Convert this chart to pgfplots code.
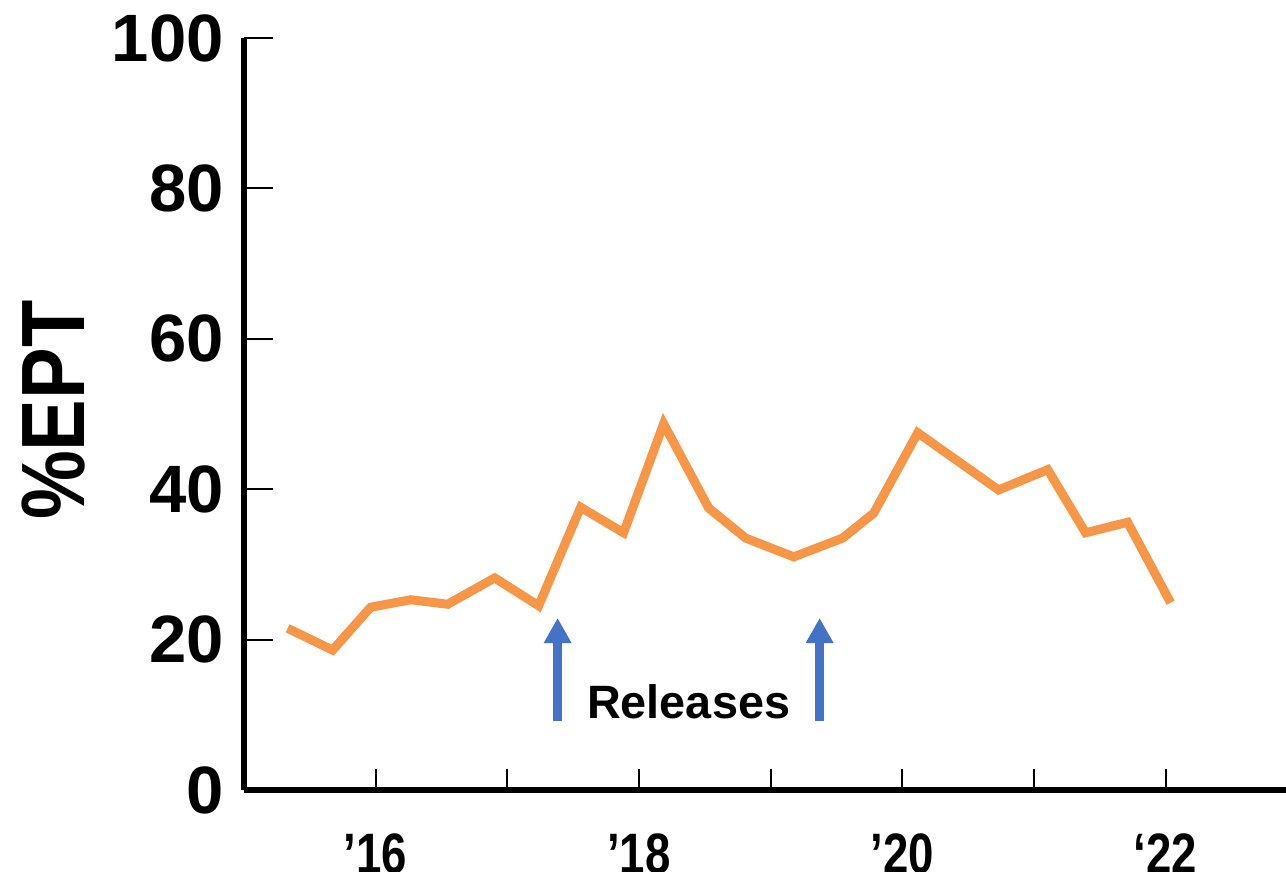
\documentclass[border=0pt]{standalone}
\usepackage{fontspec}
\setmainfont{Liberation Sans}
\usepackage{pgfplots}
\pgfplotsset{compat=1.18}
\usetikzlibrary{arrows.meta}
\definecolor{eptorange}{HTML}{F79646}
\definecolor{relblue}{HTML}{4472C4}

\begin{document}
\begin{tikzpicture}
\begin{axis}[
  scale only axis,
  width=521pt, height=376pt,
  xmin=15, xmax=22.914, ymin=0, ymax=100,
  axis x line=bottom, axis y line=left,
  axis line style={-, line width=2.75pt},
  tick align=inside,
  xtick={16,...,22},
  xticklabels={\scalebox{0.8}[1]{’16},,\scalebox{0.8}[1]{’18},,\scalebox{0.8}[1]{’20},,\scalebox{0.8}[1]{‘22}},
  ytick={0,20,...,100},
  tick style={black, line width=1pt},
  xtick style={/pgfplots/major tick length=10.5pt},
  ytick style={/pgfplots/major tick length=14.5pt},
  /pgf/number format/assume math mode=true,
  yticklabel style={font=\bfseries\fontsize{33.5}{33.5}\selectfont, inner sep=0pt, xshift=-10pt},
  xticklabel style={font=\bfseries\fontsize{28.5}{28.5}\selectfont, inner sep=0pt, yshift=-21.5pt, anchor=north},
  ylabel={\scalebox{0.86}[1]{\%EPT}},
  ylabel style={font=\bfseries\fontsize{45}{45}\selectfont, at={(axis description cs:-0.1828,0.505)}, anchor=center},
  clip=false,
]
\addplot[eptorange, line width=4.5pt, line join=miter] coordinates {
  (15.332,21.5) (15.673,18.6) (15.962,24.3) (16.266,25.3) (16.547,24.7)
  (16.904,28.2) (17.238,24.5) (17.557,37.6) (17.883,34.2) (18.187,48.7)
  (18.529,37.5) (18.810,33.5) (19.175,31.0) (19.547,33.5) (19.782,36.8)
  (20.117,47.5) (20.731,39.9) (21.104,42.6) (21.392,34.2) (21.711,35.6)
  (22.038,24.9)
};
\draw[relblue, line width=4.5pt, -{Triangle[length=12.5pt,width=13pt]}]
  (axis cs:17.382,9.18) -- (axis cs:17.382,22.87);
\draw[relblue, line width=4.5pt, -{Triangle[length=12.5pt,width=13pt]}]
  (axis cs:19.372,9.18) -- (axis cs:19.372,22.87);
\node[font=\bfseries\fontsize{23.4}{23.4}\selectfont, anchor=base, inner sep=0pt]
  at (axis cs:18.377,9.57) {Releases};
\coordinate (bl) at (rel axis cs:0,0);
\end{axis}
\pgfresetboundingbox
\path (bl) ++(-122pt,-41pt) rectangle ++(643pt,436pt);
\end{tikzpicture}
\end{document}
